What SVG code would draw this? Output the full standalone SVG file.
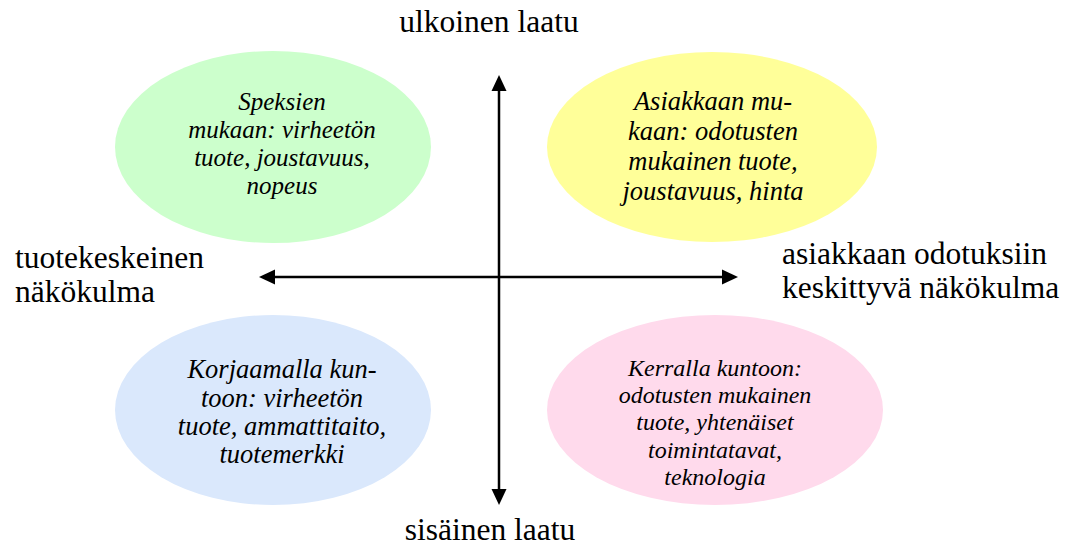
<svg xmlns="http://www.w3.org/2000/svg" width="1071" height="545" viewBox="0 0 1071 545">
<style>
.lbl{font-family:"Liberation Serif","Times New Roman",serif;font-size:31.5px;fill:#000}
.it{font-family:"Liberation Serif","Times New Roman",serif;font-style:italic;fill:#000;text-anchor:middle}
.ax{stroke:#000;stroke-width:2.5;fill:none}
</style>
<rect width="1071" height="545" fill="#fff"/>
<g id="node-green">
<ellipse cx="273" cy="147" rx="158" ry="96" fill="#CCFFCC"/>
<text class="it" font-size="25" x="282"><tspan x="282" y="110">Speksien</tspan><tspan x="282" y="138">mukaan: virheetön</tspan><tspan x="282" y="166">tuote, joustavuus,</tspan><tspan x="282" y="194">nopeus</tspan></text>
</g>
<g id="node-yellow">
<ellipse cx="712" cy="147" rx="165" ry="95" fill="#FFFF99"/>
<text class="it" font-size="26.5" x="713"><tspan x="713" y="110">Asiakkaan mu-</tspan><tspan x="713" y="140">kaan: odotusten</tspan><tspan x="713" y="170">mukainen tuote,</tspan><tspan x="713" y="200">joustavuus, hinta</tspan></text>
</g>
<g id="node-blue">
<ellipse cx="273" cy="410" rx="158" ry="95" fill="#DAE8FC"/>
<text class="it" font-size="26.5" x="282"><tspan x="282" y="378">Korjaamalla kun-</tspan><tspan x="282" y="407">toon: virheetön</tspan><tspan x="282" y="435">tuote, ammattitaito,</tspan><tspan x="282" y="463">tuotemerkki</tspan></text>
</g>
<g id="node-pink">
<ellipse cx="715" cy="410" rx="168" ry="95" fill="#FFDAEC"/>
<text class="it" font-size="24" x="715"><tspan x="715" y="376">Kerralla kuntoon:</tspan><tspan x="715" y="403">odotusten mukainen</tspan><tspan x="715" y="430">tuote, yhtenäiset</tspan><tspan x="715" y="458">toimintatavat,</tspan><tspan x="715" y="485">teknologia</tspan></text>
</g>
<g id="connectors">
<line class="ax" x1="499" y1="490" x2="499" y2="90"/>
<polygon points="499,75 491.5,91 506.5,91" fill="#000"/>
<polygon points="499,505 491.5,489 506.5,489" fill="#000"/>
<line class="ax" x1="274" y1="277" x2="722" y2="277"/>
<polygon points="259,277 275,269.5 275,284.5" fill="#000"/>
<polygon points="738,277 722,269.5 722,284.5" fill="#000"/>
</g>
<g id="labels">
<text class="lbl" x="489" y="32" text-anchor="middle">ulkoinen laatu</text>
<text class="lbl" x="490" y="540" text-anchor="middle">sisäinen laatu</text>
<text class="lbl" x="15" y="268">tuotekeskeinen</text>
<text class="lbl" x="15" y="302">näkökulma</text>
<text class="lbl" x="782" y="264">asiakkaan odotuksiin</text>
<text class="lbl" x="782" y="298">keskittyvä näkökulma</text>
</g>
</svg>
